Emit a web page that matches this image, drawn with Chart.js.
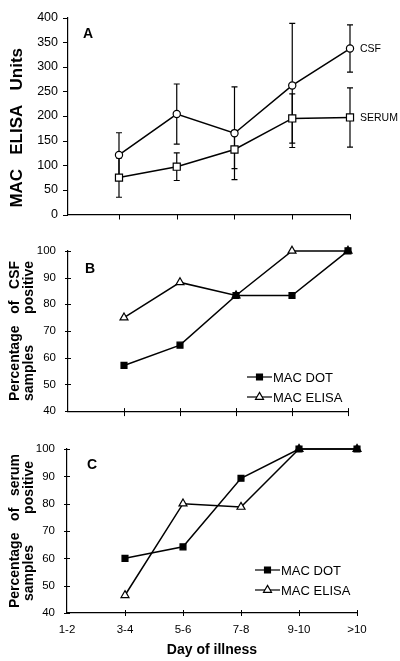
<!DOCTYPE html>
<html>
<head>
<meta charset="utf-8">
<script src="https://cdn.jsdelivr.net/npm/chart.js@4"></script>
<style>
  html, body { margin: 0; padding: 0; background: #fff; }
  #wrap { position: relative; width: 400px; height: 661px; }
  canvas { position: absolute; left: 0; }
</style>
</head>
<body>
<div id="wrap">
  <canvas id="chartA" width="400" height="232" style="top:0px"></canvas>
  <canvas id="chartB" width="400" height="198" style="top:232px"></canvas>
  <canvas id="chartC" width="400" height="231" style="top:430px"></canvas>
</div>
<script>
const days = ['1-2', '3-4', '5-6', '7-8', '9-10', '>10'];

// panel A - MAC ELISA units (mean, error)
const csfUnits = [null, 121, 204, 165, 262, 337];
const csfErr = [null, 45, 61, 94, 126, 48];
const serumUnits = [null, 75, 97, 132, 195, 197];
const serumErr = [null, 40, 28, 39, 50, 60];

// panel B - % of CSF samples positive
const csfDot = [null, 57.1, 64.7, 83.3, 83.3, 100];
const csfElisa = [null, 75, 88.2, 83.3, 100, 100];

// panel C - % of serum samples positive
const serumDot = [null, 60, 64.2, 89.3, 100, 100];
const serumElisa = [null, 46.5, 80, 78.8, 100, 100];

const FONT = "'Liberation Sans', Arial, Helvetica, sans-serif";
Chart.defaults.font.family = FONT;
Chart.defaults.color = '#000';

// tick marks drawn by hand so they can cross the axis
const tickMarks = {
    id: 'tickMarks',
    afterDraw(chart, args, opts) {
        const ctx = chart.ctx;
        const x = chart.scales.x, y = chart.scales.y;
        ctx.save();
        ctx.strokeStyle = '#000';
        ctx.lineWidth = 1;
        ctx.beginPath();
        y.ticks.forEach(t => {
            const py = Math.round(y.getPixelForValue(t.value)) + 0.5;
            const major = !opts.minorStep || t.value % opts.majorStep === 0;
            const out = major ? opts.yOut : opts.yMinor;
            ctx.moveTo(y.right - out, py);
            ctx.lineTo(y.right + opts.yIn, py);
        });
        opts.xTicks.forEach(i => {
            const px = Math.round(x.getPixelForValue(i)) + 0.5;
            ctx.moveTo(px, x.top - opts.xIn);
            ctx.lineTo(px, x.top + opts.xOut);
        });
        ctx.stroke();
        ctx.restore();
    }
};

const errorBars = {
    id: 'errorBars',
    beforeDatasetsDraw(chart, args, opts) {
        if (!opts.sets) return;
        const ctx = chart.ctx;
        const x = chart.scales.x, y = chart.scales.y;
        ctx.save();
        ctx.strokeStyle = '#000';
        ctx.lineWidth = 1.2;
        opts.sets.forEach(s => {
            s.values.forEach((v, i) => {
                if (v == null) return;
                const px = x.getPixelForValue(i);
                const top = y.getPixelForValue(v + s.err[i]);
                const bot = y.getPixelForValue(v - s.err[i]);
                ctx.beginPath();
                ctx.moveTo(px, top); ctx.lineTo(px, bot);
                ctx.moveTo(px - 3, top); ctx.lineTo(px + 3, top);
                ctx.moveTo(px - 3, bot); ctx.lineTo(px + 3, bot);
                ctx.stroke();
            });
        });
        ctx.restore();
    }
};

const notes = {
    id: 'notes',
    afterDraw(chart, args, opts) {
        const ctx = chart.ctx;
        const area = chart.chartArea;
        ctx.save();
        ctx.fillStyle = '#000';
        ctx.textBaseline = 'middle';
        ctx.textAlign = 'left';
        ctx.font = 'bold 14px ' + FONT;
        ctx.fillText(opts.letter, area.left + opts.letterX, area.top + opts.letterY);
        // series labels at the end of each line
        (opts.endLabels || []).forEach(l => {
            const meta = chart.getDatasetMeta(l.ds);
            const pt = meta.data[meta.data.length - 1];
            ctx.font = '10.5px ' + FONT;
            ctx.fillText(l.text, pt.x + 10, pt.y + l.dy);
        });
        // legend
        if (opts.legend) {
            const lg = opts.legend;
            chart.data.datasets.forEach((ds, i) => {
                const cy = lg.y + i * 20;
                ctx.strokeStyle = '#000';
                ctx.lineWidth = 1.2;
                ctx.beginPath();
                ctx.moveTo(lg.x, cy); ctx.lineTo(lg.x + 25, cy);
                ctx.stroke();
                ctx.fillStyle = ds.pointBackgroundColor;
                Chart.helpers.drawPoint(ctx, {
                    pointStyle: ds.pointStyle, radius: ds.pointRadius,
                    borderWidth: ds.pointBorderWidth, rotation: 0
                }, lg.x + 12.5, cy);
                ctx.fillStyle = '#000';
                ctx.font = '13px ' + FONT;
                ctx.fillText(ds.label, lg.x + 26, cy + 1);
            });
        }
        ctx.restore();
    }
};

function lineSet(label, data, style, radius, fill) {
    return {
        label: label,
        data: data,
        borderColor: '#000',
        borderWidth: 1.5,
        pointStyle: style,
        pointRadius: radius,
        pointHoverRadius: radius,
        pointBorderWidth: 1.2,
        pointBorderColor: '#000',
        pointBackgroundColor: fill,
        spanGaps: false,
        clip: false
    };
}

function yAxis(min, max, step, width, title, titleSize, titleLine, titlePad, tickSize, tickPad, cb) {
    return {
        type: 'linear', min: min, max: max,
        grid: { display: false, drawTicks: false },
        border: { display: true, color: '#000', width: 1.2 },
        ticks: { stepSize: step, padding: tickPad, font: { size: tickSize }, color: '#000', callback: cb },
        title: {
            display: true, text: title, color: '#000',
            font: { size: titleSize, weight: 'bold', lineHeight: titleLine },
            padding: { top: titlePad, bottom: 0 }
        },
        afterFit(s) { s.width = width; }
    };
}

function baseOptions(x, y, padTop, extra) {
    return {
        responsive: false,
        animation: false,
        devicePixelRatio: 1,
        layout: { padding: { top: padTop, right: extra.right, left: 0, bottom: 0 } },
        plugins: {
            legend: { display: false },
            tooltip: { enabled: false },
            tickMarks: extra.ticks,
            errorBars: extra.errors || {},
            notes: extra.notes
        },
        scales: { x: x, y: y }
    };
}

// panel A
new Chart(document.getElementById('chartA'), {
    type: 'line',
    data: {
        datasets: [
            lineSet('CSF', csfUnits.map((v, i) => ({ x: i, y: v })), 'circle', 3.6, '#fff'),
            lineSet('SERUM', serumUnits.map((v, i) => ({ x: i, y: v })), 'rect', 5, '#fff')
        ]
    },
    options: baseOptions(
        {
            type: 'linear', min: 0.117, max: 5,
            grid: { display: false, drawTicks: false },
            border: { display: true, color: '#000', width: 1.2 },
            ticks: { display: false },
            afterFit(s) { s.height = 13; }
        },
        yAxis(0, 400, 25, 68, 'MAC   ELISA   Units     ', 17, 1.2, 7, 12.5, 10,
            v => (v % 50 === 0 ? v : '')),
        10,
        {
            right: 50,
            ticks: { yOut: 5, yMinor: 3, yIn: 0, minorStep: 25, majorStep: 50, xTicks: [1, 2, 3, 4, 5], xIn: 0, xOut: 5 },
            errors: { sets: [
                { values: csfUnits, err: csfErr },
                { values: serumUnits, err: serumErr }
            ] },
            notes: { letter: 'A', letterX: 15, letterY: 17, endLabels: [{ ds: 0, text: 'CSF', dy: 1 }, { ds: 1, text: 'SERUM', dy: 1 }] }
        }
    ),
    plugins: [tickMarks, errorBars, notes]
});

// panel B
new Chart(document.getElementById('chartB'), {
    type: 'line',
    data: {
        labels: days,
        datasets: [
            lineSet('MAC DOT', csfDot, 'rect', 4.2, '#000'),
            lineSet('MAC ELISA', csfElisa, 'triangle', 4.6, '#fff')
        ]
    },
    options: baseOptions(
        {
            type: 'category', offset: false,
            grid: { display: false, drawTicks: false },
            border: { display: true, color: '#000', width: 1.2 },
            ticks: { display: false },
            afterFit(s) { s.height = 11; }
        },
        yAxis(40, 100, 10, 68, ['Percentage   of   CSF', 'samples        positive'], 14, 1.0, 8, 11.5, 12),
        16,
        {
            right: 52,
            ticks: { yOut: 3, yIn: 3, xTicks: [1, 2, 3, 4, 5], xIn: 3, xOut: 5 },
            notes: { letter: 'B', letterX: 17, letterY: 18, legend: { x: 247, y: 145 } }
        }
    ),
    plugins: [tickMarks, notes]
});

// panel C
new Chart(document.getElementById('chartC'), {
    type: 'line',
    data: {
        labels: days,
        datasets: [
            lineSet('MAC DOT', serumDot, 'rect', 4.2, '#000'),
            lineSet('MAC ELISA', serumElisa, 'triangle', 4.6, '#fff')
        ]
    },
    options: baseOptions(
        {
            type: 'category', offset: false,
            grid: { display: false, drawTicks: false },
            border: { display: true, color: '#000', width: 1.2 },
            ticks: { padding: 10, font: { size: 11.5 }, color: '#000', maxRotation: 0, autoSkip: false },
            title: {
                display: true, text: 'Day of illness', color: '#000',
                font: { size: 14, weight: 'bold', lineHeight: 1.2 },
                padding: { top: 2, bottom: 2 }
            },
            afterFit(s) { s.height = 48; }
        },
        yAxis(40, 100, 10, 67, ['Percentage   of   serum', 'samples        positive'], 14, 1.0, 8, 11.5, 12),
        19,
        {
            right: 43,
            ticks: { yOut: 3, yIn: 3, xTicks: [1, 2, 3, 4, 5], xIn: 3, xOut: 3 },
            notes: { letter: 'C', letterX: 20, letterY: 16, legend: { x: 255, y: 140 } }
        }
    ),
    plugins: [tickMarks, notes]
});
</script>
</body>
</html>
